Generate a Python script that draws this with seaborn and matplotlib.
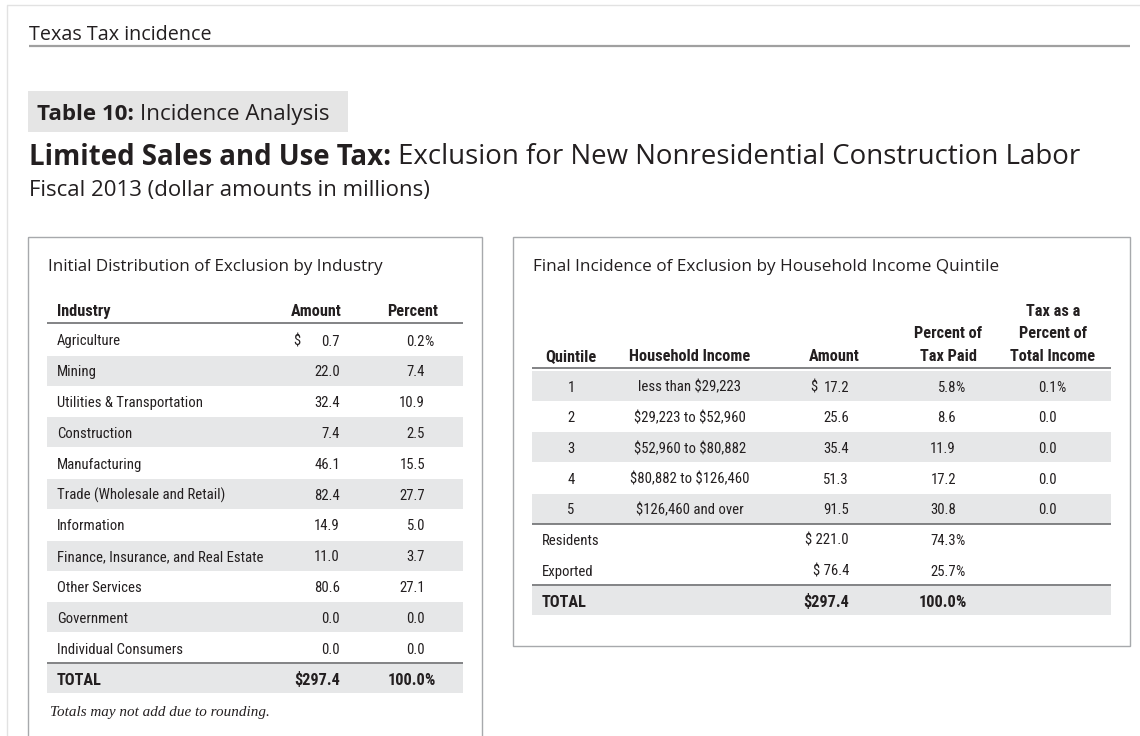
import matplotlib
matplotlib.use('Agg')
import matplotlib.pyplot as plt
from matplotlib.patches import Rectangle
from matplotlib import font_manager
import seaborn as sns

# ---- data -------------------------------------------------------------
industries = ['Agriculture', 'Mining', 'Utilities & Transportation', 'Construction',
              'Manufacturing', 'Trade (Wholesale and Retail)', 'Information',
              'Finance, Insurance, and Real Estate', 'Other Services', 'Government',
              'Individual Consumers']
industry_amount = [0.7, 22.0, 32.4, 7.4, 46.1, 82.4, 14.9, 11.0, 80.6, 0.0, 0.0]
industry_percent = [0.2, 7.4, 10.9, 2.5, 15.5, 27.7, 5.0, 3.7, 27.1, 0.0, 0.0]
industry_total = [297.4, 100.0]

quintiles = [1, 2, 3, 4, 5]
income_ranges = ['less than $29,223', '$29,223 to $52,960', '$52,960 to $80,882',
                 '$80,882 to $126,460', '$126,460 and over']
quintile_amount = [17.2, 25.6, 35.4, 51.3, 91.5]
quintile_percent = [5.8, 8.6, 11.9, 17.2, 30.8]
quintile_income_share = [0.1, 0.0, 0.0, 0.0, 0.0]
split_labels = ['Residents', 'Exported']
split_amount = [221.0, 76.4]
split_percent = [74.3, 25.7]
incidence_total = [297.4, 100.0]

# ---- style ------------------------------------------------------------
sns.set_theme(style='white')
names = {f.name for f in font_manager.fontManager.ttflist}
narrow = next((n for n in ['Roboto Condensed', 'Liberation Sans Narrow', 'Open Sans Condensed']
               if n in names), 'Liberation Sans')
plt.rcParams['font.family'] = ['Open Sans', 'DejaVu Sans']

INK = '#231f20'
SHADE = '#e6e7e8'
RULE = '#6d6e71'
FRAME = '#a7a9ac'

fig = plt.figure(figsize=(11.4, 7.36), dpi=100)
ax = fig.add_axes([0, 0, 1, 1])
ax.set_xlim(0, 1140)
ax.set_ylim(736, 0)
ax.axis('off')
renderer = fig.canvas.get_renderer()


def put(x, y, s, size, ha='left', family=None, weight='normal', style='normal', color=INK):
    return ax.text(x, y, s, fontsize=size, ha=ha, va='center_baseline',
                   family=family or ['Open Sans', 'DejaVu Sans'], fontweight=weight,
                   fontstyle=style, color=color, parse_math=False, zorder=3)


def width_of(t):
    return t.get_window_extent(renderer).width


def fit_size(s, width, **kw):
    t = put(0, 0, s, 10, **kw)
    w = width_of(t)
    t.remove()
    return 10 * width / w


def run(x, y, parts, width, **kw):
    # one line in mixed weights, scaled so it spans `width` px
    total = 0
    for s, wt in parts:
        t = put(0, 0, s, 10, weight=wt, **kw)
        total += width_of(t)
    for t in ax.texts[-len(parts):]:
        t.remove()
    gap = 0.26 * 10 / 0.72 * (len(parts) - 1)
    size = 10 * width / (total + gap)
    for s, wt in parts:
        t = put(x, y, s, size, weight=wt, **kw)
        x += width_of(t) + 0.26 * size / 0.72
    return size


def shade(x0, x1, y, h=30):
    ax.add_patch(Rectangle((x0, y - h / 2), x1 - x0, h, color=SHADE, lw=0, zorder=1))


def rule(x0, x1, y, color=RULE, lw=1.2):
    ax.plot([x0, x1], [y, y], color=color, lw=lw, zorder=2, solid_capstyle='butt')


# ---- page header ------------------------------------------------------
rule(7, 1140, 5, color='#e2e2e2', lw=1)
ax.plot([7, 7], [5, 736], color='#e2e2e2', lw=1)
run(29, 33, [('Texas Tax incidence', 'normal')], 183)
rule(29, 1130, 46, color='#a0a0a0', lw=1.6)

ax.add_patch(Rectangle((28, 91), 320, 41, color='#e5e5e5', lw=0, zorder=1))
run(37, 112, [('Table 10:', 'bold'), ('Incidence Analysis', 'normal')], 293)
run(29, 154, [('Limited Sales and Use Tax:', 'bold'),
              ('Exclusion for New Nonresidential Construction Labor', 'normal')], 1050)
run(29, 188, [('Fiscal 2013 (dollar amounts in millions)', 'normal')], 403)

tsize = fit_size('Finance, Insurance, and Real Estate', 204, family=narrow)
bsize = tsize * 1.1
hdr = dict(family=narrow, weight='bold')

# ---- left panel: distribution by industry -----------------------------
ax.add_patch(Rectangle((28, 237), 454, 520, fill=False, edgecolor=FRAME, lw=1, zorder=2))
run(48, 265, [('Initial Distribution of Exclusion by Industry', 'normal')], 337)

put(57, 310, 'Industry', bsize, **hdr)
put(342, 310, 'Amount', bsize, ha='right', **hdr)
put(438, 310, 'Percent', bsize, ha='right', **hdr)
rule(47, 463, 323)

step = 30.8
for i, name in enumerate(industries):
    y = 340 + i * step
    if i % 2 == 1:
        shade(47, 463, y)
    put(57, y, name, tsize, family=narrow)
    put(340, y, f'{industry_amount[i]:.1f}', tsize, ha='right', family=narrow)
    put(425, y, f'{industry_percent[i]:.1f}', tsize, ha='right', family=narrow)
    if i == 0:
        put(293, y, '$', tsize, family=narrow)
        put(424, y, '%', tsize, family=narrow)

y = 340 + len(industries) * step
shade(47, 463, y, h=29)
rule(47, 463, y - 15.5)
put(57, y, 'TOTAL', bsize, **hdr)
put(340, y, f'${industry_total[0]:.1f}', bsize, ha='right', **hdr)
put(425, y, f'{industry_total[1]:.1f}', bsize, ha='right', **hdr)
put(424, y, '%', bsize, **hdr)

fsize = fit_size('Totals may not add due to rounding.', 220,
                 family=['Liberation Serif', 'DejaVu Serif'], style='italic')
put(50, 711, 'Totals may not add due to rounding.', fsize,
    family=['Liberation Serif', 'DejaVu Serif'], style='italic')

# ---- right panel: incidence by quintile -------------------------------
ax.add_patch(Rectangle((513, 237), 617, 409, fill=False, edgecolor=FRAME, lw=1, zorder=2))
run(533, 265, [('Final Incidence of Exclusion by Household Income Quintile', 'normal')], 464)

put(571, 355, 'Quintile', bsize, ha='center', **hdr)
put(690, 355, 'Household Income', bsize, ha='center', **hdr)
put(860, 355, 'Amount', bsize, ha='right', **hdr)
put(948, 332, 'Percent of', bsize, ha='center', **hdr)
put(948, 355, 'Tax Paid', bsize, ha='center', **hdr)
put(1053, 310, 'Tax as a', bsize, ha='center', **hdr)
put(1053, 332, 'Percent of', bsize, ha='center', **hdr)
put(1053, 355, 'Total Income', bsize, ha='center', **hdr)
rule(532, 1111, 368)

rstep = 30.7
for i, q in enumerate(quintiles):
    y = 386 + i * rstep
    if i % 2 == 0:
        shade(532, 1111, y)
    put(571, y, str(q), tsize, ha='center', family=narrow)
    put(690, y, income_ranges[i], tsize, ha='center', family=narrow)
    put(849, y, f'{quintile_amount[i]:.1f}', tsize, ha='right', family=narrow)
    put(956, y, f'{quintile_percent[i]:.1f}', tsize, ha='right', family=narrow)
    put(1057, y, f'{quintile_income_share[i]:.1f}', tsize, ha='right', family=narrow)
    if i == 0:
        put(810, y, '$', tsize, family=narrow)
        put(955, y, '%', tsize, family=narrow)
        put(1056, y, '%', tsize, family=narrow)

rule(532, 1111, 386 + 4.5 * rstep)
for j, lab in enumerate(split_labels):
    y = 386 + (5 + j) * rstep
    put(542, y, lab, tsize, family=narrow)
    put(849, y, f'$ {split_amount[j]:.1f}', tsize, ha='right', family=narrow)
    put(956, y, f'{split_percent[j]:.1f}', tsize, ha='right', family=narrow)
    put(955, y, '%', tsize, family=narrow)

y = 386 + 7 * rstep
shade(532, 1111, y, h=29)
rule(532, 1111, y - 15.5)
put(542, y, 'TOTAL', bsize, **hdr)
put(849, y, f'${incidence_total[0]:.1f}', bsize, ha='right', **hdr)
put(956, y, f'{incidence_total[1]:.1f}', bsize, ha='right', **hdr)
put(955, y, '%', bsize, **hdr)

fig.savefig('out.png', dpi=100, facecolor='white')
